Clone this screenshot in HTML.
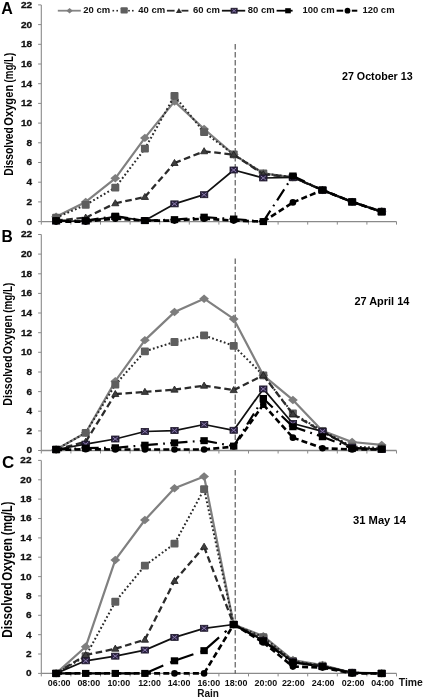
<!DOCTYPE html>
<html><head><meta charset="utf-8"><style>
html,body{margin:0;padding:0;background:#fff;}
svg{display:block;will-change:transform;}
text{font-family:"Liberation Sans",sans-serif;font-weight:bold;}
</style></head><body>
<svg width="425" height="699" viewBox="0 0 425 699">
<rect width="425" height="699" fill="#fff"/>
<line x1="41.3" y1="4.9" x2="41.3" y2="221.6" stroke="#8a8a8a" stroke-width="1.1"/>
<line x1="38.1" y1="221.6" x2="41.3" y2="221.6" stroke="#8a8a8a" stroke-width="1"/>
<text transform="translate(32.1,224.5) scale(1.04,1)" font-size="9.7" text-anchor="end" font-family="Liberation Sans, sans-serif" font-weight="bold" fill="#111" stroke="#111" stroke-width="0.3">0</text>
<line x1="38.1" y1="201.9" x2="41.3" y2="201.9" stroke="#8a8a8a" stroke-width="1"/>
<text transform="translate(32.1,204.8) scale(1.04,1)" font-size="9.7" text-anchor="end" font-family="Liberation Sans, sans-serif" font-weight="bold" fill="#111" stroke="#111" stroke-width="0.3">2</text>
<line x1="38.1" y1="182.2" x2="41.3" y2="182.2" stroke="#8a8a8a" stroke-width="1"/>
<text transform="translate(32.1,185.1) scale(1.04,1)" font-size="9.7" text-anchor="end" font-family="Liberation Sans, sans-serif" font-weight="bold" fill="#111" stroke="#111" stroke-width="0.3">4</text>
<line x1="38.1" y1="162.5" x2="41.3" y2="162.5" stroke="#8a8a8a" stroke-width="1"/>
<text transform="translate(32.1,165.4) scale(1.04,1)" font-size="9.7" text-anchor="end" font-family="Liberation Sans, sans-serif" font-weight="bold" fill="#111" stroke="#111" stroke-width="0.3">6</text>
<line x1="38.1" y1="142.8" x2="41.3" y2="142.8" stroke="#8a8a8a" stroke-width="1"/>
<text transform="translate(32.1,145.7) scale(1.04,1)" font-size="9.7" text-anchor="end" font-family="Liberation Sans, sans-serif" font-weight="bold" fill="#111" stroke="#111" stroke-width="0.3">8</text>
<line x1="38.1" y1="123.1" x2="41.3" y2="123.1" stroke="#8a8a8a" stroke-width="1"/>
<text transform="translate(32.1,126.0) scale(1.04,1)" font-size="9.7" text-anchor="end" font-family="Liberation Sans, sans-serif" font-weight="bold" fill="#111" stroke="#111" stroke-width="0.3">10</text>
<line x1="38.1" y1="103.4" x2="41.3" y2="103.4" stroke="#8a8a8a" stroke-width="1"/>
<text transform="translate(32.1,106.3) scale(1.04,1)" font-size="9.7" text-anchor="end" font-family="Liberation Sans, sans-serif" font-weight="bold" fill="#111" stroke="#111" stroke-width="0.3">12</text>
<line x1="38.1" y1="83.7" x2="41.3" y2="83.7" stroke="#8a8a8a" stroke-width="1"/>
<text transform="translate(32.1,86.6) scale(1.04,1)" font-size="9.7" text-anchor="end" font-family="Liberation Sans, sans-serif" font-weight="bold" fill="#111" stroke="#111" stroke-width="0.3">14</text>
<line x1="38.1" y1="64.0" x2="41.3" y2="64.0" stroke="#8a8a8a" stroke-width="1"/>
<text transform="translate(32.1,66.9) scale(1.04,1)" font-size="9.7" text-anchor="end" font-family="Liberation Sans, sans-serif" font-weight="bold" fill="#111" stroke="#111" stroke-width="0.3">16</text>
<line x1="38.1" y1="44.3" x2="41.3" y2="44.3" stroke="#8a8a8a" stroke-width="1"/>
<text transform="translate(32.1,47.2) scale(1.04,1)" font-size="9.7" text-anchor="end" font-family="Liberation Sans, sans-serif" font-weight="bold" fill="#111" stroke="#111" stroke-width="0.3">18</text>
<line x1="38.1" y1="24.6" x2="41.3" y2="24.6" stroke="#8a8a8a" stroke-width="1"/>
<text transform="translate(32.1,27.5) scale(1.04,1)" font-size="9.7" text-anchor="end" font-family="Liberation Sans, sans-serif" font-weight="bold" fill="#111" stroke="#111" stroke-width="0.3">20</text>
<line x1="38.1" y1="4.9" x2="41.3" y2="4.9" stroke="#8a8a8a" stroke-width="1"/>
<text transform="translate(32.1,7.8) scale(1.04,1)" font-size="9.7" text-anchor="end" font-family="Liberation Sans, sans-serif" font-weight="bold" fill="#111" stroke="#111" stroke-width="0.3">22</text>
<line x1="41.3" y1="221.6" x2="396.5" y2="221.6" stroke="#8a8a8a" stroke-width="1.3"/>
<line x1="41.3" y1="221.6" x2="41.3" y2="224.6" stroke="#8a8a8a" stroke-width="1"/>
<line x1="70.9" y1="221.6" x2="70.9" y2="224.6" stroke="#8a8a8a" stroke-width="1"/>
<line x1="100.5" y1="221.6" x2="100.5" y2="224.6" stroke="#8a8a8a" stroke-width="1"/>
<line x1="130.1" y1="221.6" x2="130.1" y2="224.6" stroke="#8a8a8a" stroke-width="1"/>
<line x1="159.7" y1="221.6" x2="159.7" y2="224.6" stroke="#8a8a8a" stroke-width="1"/>
<line x1="189.3" y1="221.6" x2="189.3" y2="224.6" stroke="#8a8a8a" stroke-width="1"/>
<line x1="218.9" y1="221.6" x2="218.9" y2="224.6" stroke="#8a8a8a" stroke-width="1"/>
<line x1="248.5" y1="221.6" x2="248.5" y2="224.6" stroke="#8a8a8a" stroke-width="1"/>
<line x1="278.1" y1="221.6" x2="278.1" y2="224.6" stroke="#8a8a8a" stroke-width="1"/>
<line x1="307.7" y1="221.6" x2="307.7" y2="224.6" stroke="#8a8a8a" stroke-width="1"/>
<line x1="337.3" y1="221.6" x2="337.3" y2="224.6" stroke="#8a8a8a" stroke-width="1"/>
<line x1="366.9" y1="221.6" x2="366.9" y2="224.6" stroke="#8a8a8a" stroke-width="1"/>
<line x1="396.5" y1="221.6" x2="396.5" y2="224.6" stroke="#8a8a8a" stroke-width="1"/>
<line x1="235.2" y1="44.0" x2="235.2" y2="221.6" stroke="#474747" stroke-width="1.05" stroke-dasharray="5.4 2.6"/>
<polyline points="56.1,216.7 85.7,201.9 115.3,178.3 144.9,137.9 174.5,101.4 204.1,129.0 233.7,154.6 263.3,173.3 292.9,177.3 322.5,190.1 352.1,201.9 381.7,211.3" fill="none" stroke="#808080" stroke-width="2.2" stroke-linejoin="round"/>
<path d="M56.10 212.47L61.00 216.67L56.10 220.87L51.20 216.67Z" fill="#7d7d7d"/>
<path d="M85.70 197.70L90.60 201.90L85.70 206.10L80.80 201.90Z" fill="#7d7d7d"/>
<path d="M115.30 174.06L120.20 178.26L115.30 182.46L110.40 178.26Z" fill="#7d7d7d"/>
<path d="M144.90 133.68L149.80 137.88L144.90 142.07L140.00 137.88Z" fill="#7d7d7d"/>
<path d="M174.50 97.23L179.40 101.43L174.50 105.63L169.60 101.43Z" fill="#7d7d7d"/>
<path d="M204.10 124.81L209.00 129.01L204.10 133.21L199.20 129.01Z" fill="#7d7d7d"/>
<path d="M233.70 150.42L238.60 154.62L233.70 158.82L228.80 154.62Z" fill="#7d7d7d"/>
<path d="M263.30 169.13L268.20 173.33L263.30 177.53L258.40 173.33Z" fill="#7d7d7d"/>
<path d="M292.90 173.08L297.80 177.28L292.90 181.47L288.00 177.28Z" fill="#7d7d7d"/>
<path d="M322.50 185.88L327.40 190.08L322.50 194.28L317.60 190.08Z" fill="#7d7d7d"/>
<path d="M352.10 197.70L357.00 201.90L352.10 206.10L347.20 201.90Z" fill="#7d7d7d"/>
<path d="M381.70 207.06L386.60 211.26L381.70 215.46L376.80 211.26Z" fill="#7d7d7d"/>
<polyline points="56.1,217.7 85.7,204.9 115.3,187.6 144.9,148.7 174.5,95.9 204.1,132.2 233.7,154.4 263.3,173.3 292.9,177.3 322.5,190.1 352.1,201.9 381.7,211.8" fill="none" stroke="#2a2a2a" stroke-width="2.0" stroke-linejoin="round" stroke-dasharray="1.8 2.3"/>
<rect x="52.10" y="213.76" width="8.00" height="7.80" rx="1.00" fill="#5e5e5e"/>
<rect x="81.70" y="200.95" width="8.00" height="7.80" rx="1.00" fill="#5e5e5e"/>
<rect x="111.30" y="183.72" width="8.00" height="7.80" rx="1.00" fill="#5e5e5e"/>
<rect x="140.90" y="144.81" width="8.00" height="7.80" rx="1.00" fill="#5e5e5e"/>
<rect x="170.50" y="92.01" width="8.00" height="7.80" rx="1.00" fill="#5e5e5e"/>
<rect x="200.10" y="128.26" width="8.00" height="7.80" rx="1.00" fill="#5e5e5e"/>
<rect x="229.70" y="150.52" width="8.00" height="7.80" rx="1.00" fill="#5e5e5e"/>
<rect x="259.30" y="169.43" width="8.00" height="7.80" rx="1.00" fill="#5e5e5e"/>
<rect x="288.90" y="173.38" width="8.00" height="7.80" rx="1.00" fill="#5e5e5e"/>
<rect x="318.50" y="186.18" width="8.00" height="7.80" rx="1.00" fill="#5e5e5e"/>
<rect x="348.10" y="198.00" width="8.00" height="7.80" rx="1.00" fill="#5e5e5e"/>
<rect x="377.70" y="207.85" width="8.00" height="7.80" rx="1.00" fill="#5e5e5e"/>
<g fill="none" stroke="#2b2b2b" stroke-width="2.3" stroke-linejoin="round" stroke-dasharray="6.6 3.6"><line x1="56.1" y1="220.6" x2="85.7" y2="217.7"/><line x1="85.7" y1="217.7" x2="115.3" y2="203.3"/><line x1="115.3" y1="203.3" x2="144.9" y2="197.0"/><line x1="144.9" y1="197.0" x2="174.5" y2="163.0"/><line x1="174.5" y1="163.0" x2="204.1" y2="151.3"/><line x1="204.1" y1="151.3" x2="233.7" y2="154.6"/><line x1="233.7" y1="154.6" x2="263.3" y2="174.3"/><line x1="263.3" y1="174.3" x2="292.9" y2="177.3"/><line x1="292.9" y1="177.3" x2="322.5" y2="190.1"/><line x1="322.5" y1="190.1" x2="352.1" y2="201.9"/><line x1="352.1" y1="201.9" x2="381.7" y2="211.8"/></g>
<path d="M56.10 217.01L59.70 223.11L52.50 223.11Z" fill="#3e3e3e" stroke="#1e1e1e" stroke-width="0.8" stroke-linejoin="round"/>
<path d="M85.70 214.06L89.30 220.16L82.10 220.16Z" fill="#3e3e3e" stroke="#1e1e1e" stroke-width="0.8" stroke-linejoin="round"/>
<path d="M115.30 199.68L118.90 205.78L111.70 205.78Z" fill="#3e3e3e" stroke="#1e1e1e" stroke-width="0.8" stroke-linejoin="round"/>
<path d="M144.90 193.38L148.50 199.47L141.30 199.47Z" fill="#3e3e3e" stroke="#1e1e1e" stroke-width="0.8" stroke-linejoin="round"/>
<path d="M174.50 159.39L178.10 165.49L170.90 165.49Z" fill="#3e3e3e" stroke="#1e1e1e" stroke-width="0.8" stroke-linejoin="round"/>
<path d="M204.10 147.67L207.70 153.77L200.50 153.77Z" fill="#3e3e3e" stroke="#1e1e1e" stroke-width="0.8" stroke-linejoin="round"/>
<path d="M233.70 151.02L237.30 157.12L230.10 157.12Z" fill="#3e3e3e" stroke="#1e1e1e" stroke-width="0.8" stroke-linejoin="round"/>
<path d="M263.30 170.72L266.90 176.82L259.70 176.82Z" fill="#3e3e3e" stroke="#1e1e1e" stroke-width="0.8" stroke-linejoin="round"/>
<path d="M292.90 173.68L296.50 179.78L289.30 179.78Z" fill="#3e3e3e" stroke="#1e1e1e" stroke-width="0.8" stroke-linejoin="round"/>
<path d="M322.50 186.48L326.10 192.58L318.90 192.58Z" fill="#3e3e3e" stroke="#1e1e1e" stroke-width="0.8" stroke-linejoin="round"/>
<path d="M352.10 198.30L355.70 204.40L348.50 204.40Z" fill="#3e3e3e" stroke="#1e1e1e" stroke-width="0.8" stroke-linejoin="round"/>
<path d="M381.70 208.15L385.30 214.25L378.10 214.25Z" fill="#3e3e3e" stroke="#1e1e1e" stroke-width="0.8" stroke-linejoin="round"/>
<polyline points="56.1,221.1 85.7,221.1 115.3,216.7 144.9,220.6 174.5,203.9 204.1,194.7 233.7,170.0 263.3,178.0 292.9,177.3 322.5,190.1 352.1,201.9 381.7,211.8" fill="none" stroke="#111111" stroke-width="1.75" stroke-linejoin="round"/>
<rect x="52.40" y="218.11" width="7.40" height="6.00" fill="#2a2240" stroke="#1c1628" stroke-width="0.8"/><path d="M53.60 219.11L58.60 223.11M58.60 219.11L53.60 223.11" stroke="#8a7aac" stroke-width="1.0"/>
<rect x="82.00" y="218.11" width="7.40" height="6.00" fill="#2a2240" stroke="#1c1628" stroke-width="0.8"/><path d="M83.20 219.11L88.20 223.11M88.20 219.11L83.20 223.11" stroke="#8a7aac" stroke-width="1.0"/>
<rect x="111.60" y="213.67" width="7.40" height="6.00" fill="#2a2240" stroke="#1c1628" stroke-width="0.8"/><path d="M112.80 214.67L117.80 218.67M117.80 214.67L112.80 218.67" stroke="#8a7aac" stroke-width="1.0"/>
<rect x="141.20" y="217.61" width="7.40" height="6.00" fill="#2a2240" stroke="#1c1628" stroke-width="0.8"/><path d="M142.40 218.61L147.40 222.61M147.40 218.61L142.40 222.61" stroke="#8a7aac" stroke-width="1.0"/>
<rect x="170.80" y="200.87" width="7.40" height="6.00" fill="#2a2240" stroke="#1c1628" stroke-width="0.8"/><path d="M172.00 201.87L177.00 205.87M177.00 201.87L172.00 205.87" stroke="#8a7aac" stroke-width="1.0"/>
<rect x="200.40" y="191.71" width="7.40" height="6.00" fill="#2a2240" stroke="#1c1628" stroke-width="0.8"/><path d="M201.60 192.71L206.60 196.71M206.60 192.71L201.60 196.71" stroke="#8a7aac" stroke-width="1.0"/>
<rect x="230.00" y="166.99" width="7.40" height="6.00" fill="#2a2240" stroke="#1c1628" stroke-width="0.8"/><path d="M231.20 167.99L236.20 171.99M236.20 167.99L231.20 171.99" stroke="#8a7aac" stroke-width="1.0"/>
<rect x="259.60" y="174.96" width="7.40" height="6.00" fill="#2a2240" stroke="#1c1628" stroke-width="0.8"/><path d="M260.80 175.96L265.80 179.96M265.80 175.96L260.80 179.96" stroke="#8a7aac" stroke-width="1.0"/>
<rect x="289.20" y="174.28" width="7.40" height="6.00" fill="#2a2240" stroke="#1c1628" stroke-width="0.8"/><path d="M290.40 175.28L295.40 179.28M295.40 175.28L290.40 179.28" stroke="#8a7aac" stroke-width="1.0"/>
<rect x="318.80" y="187.08" width="7.40" height="6.00" fill="#2a2240" stroke="#1c1628" stroke-width="0.8"/><path d="M320.00 188.08L325.00 192.08M325.00 188.08L320.00 192.08" stroke="#8a7aac" stroke-width="1.0"/>
<rect x="348.40" y="198.90" width="7.40" height="6.00" fill="#2a2240" stroke="#1c1628" stroke-width="0.8"/><path d="M349.60 199.90L354.60 203.90M354.60 199.90L349.60 203.90" stroke="#8a7aac" stroke-width="1.0"/>
<rect x="378.00" y="208.75" width="7.40" height="6.00" fill="#2a2240" stroke="#1c1628" stroke-width="0.8"/><path d="M379.20 209.75L384.20 213.75M384.20 209.75L379.20 213.75" stroke="#8a7aac" stroke-width="1.0"/>
<g fill="none" stroke="#000000" stroke-width="2.2" stroke-linejoin="round" stroke-dasharray="13 5.3 1.8 5.3"><line x1="56.1" y1="220.6" x2="85.7" y2="220.6"/><line x1="85.7" y1="220.6" x2="115.3" y2="216.2"/><line x1="115.3" y1="216.2" x2="144.9" y2="220.6"/><line x1="144.9" y1="220.6" x2="174.5" y2="219.6"/><line x1="174.5" y1="219.6" x2="204.1" y2="217.2"/><line x1="204.1" y1="217.2" x2="233.7" y2="219.0"/><line x1="233.7" y1="219.0" x2="263.3" y2="221.6"/><line x1="263.3" y1="221.6" x2="292.9" y2="176.0"/><line x1="292.9" y1="176.0" x2="322.5" y2="190.1"/><line x1="322.5" y1="190.1" x2="352.1" y2="201.9"/><line x1="352.1" y1="201.9" x2="381.7" y2="211.8"/></g>
<rect x="52.40" y="217.11" width="7.40" height="7.00" fill="#000"/>
<rect x="82.00" y="217.11" width="7.40" height="7.00" fill="#000"/>
<rect x="111.60" y="212.68" width="7.40" height="7.00" fill="#000"/>
<rect x="141.20" y="217.11" width="7.40" height="7.00" fill="#000"/>
<rect x="170.80" y="216.13" width="7.40" height="7.00" fill="#000"/>
<rect x="200.40" y="213.67" width="7.40" height="7.00" fill="#000"/>
<rect x="230.00" y="215.54" width="7.40" height="7.00" fill="#000"/>
<rect x="259.60" y="218.10" width="7.40" height="7.00" fill="#000"/>
<rect x="289.20" y="172.49" width="7.40" height="7.00" fill="#000"/>
<rect x="318.80" y="186.58" width="7.40" height="7.00" fill="#000"/>
<rect x="348.40" y="198.40" width="7.40" height="7.00" fill="#000"/>
<rect x="378.00" y="208.25" width="7.40" height="7.00" fill="#000"/>
<g fill="none" stroke="#000000" stroke-width="2.6" stroke-linejoin="round" stroke-dasharray="6 3.2"><line x1="56.1" y1="221.6" x2="85.7" y2="221.6"/><line x1="85.7" y1="221.6" x2="115.3" y2="218.6"/><line x1="115.3" y1="218.6" x2="144.9" y2="220.6"/><line x1="144.9" y1="220.6" x2="174.5" y2="220.6"/><line x1="174.5" y1="220.6" x2="204.1" y2="218.6"/><line x1="204.1" y1="218.6" x2="233.7" y2="220.6"/><line x1="233.7" y1="220.6" x2="263.3" y2="221.6"/><line x1="263.3" y1="221.6" x2="292.9" y2="202.4"/><line x1="292.9" y1="202.4" x2="322.5" y2="190.1"/><line x1="322.5" y1="190.1" x2="352.1" y2="201.9"/><line x1="352.1" y1="201.9" x2="381.7" y2="211.8"/></g>
<circle cx="56.10" cy="221.60" r="3.30" fill="#000"/>
<circle cx="85.70" cy="221.60" r="3.30" fill="#000"/>
<circle cx="115.30" cy="218.64" r="3.30" fill="#000"/>
<circle cx="144.90" cy="220.61" r="3.30" fill="#000"/>
<circle cx="174.50" cy="220.61" r="3.30" fill="#000"/>
<circle cx="204.10" cy="218.64" r="3.30" fill="#000"/>
<circle cx="233.70" cy="220.61" r="3.30" fill="#000"/>
<circle cx="263.30" cy="221.60" r="3.30" fill="#000"/>
<circle cx="292.90" cy="202.39" r="3.30" fill="#000"/>
<circle cx="322.50" cy="190.08" r="3.30" fill="#000"/>
<circle cx="352.10" cy="201.90" r="3.30" fill="#000"/>
<circle cx="381.70" cy="211.75" r="3.30" fill="#000"/>
<line x1="41.3" y1="234.5" x2="41.3" y2="450.5" stroke="#8a8a8a" stroke-width="1.1"/>
<line x1="38.1" y1="450.5" x2="41.3" y2="450.5" stroke="#8a8a8a" stroke-width="1"/>
<text transform="translate(32.1,453.4) scale(1.04,1)" font-size="9.7" text-anchor="end" font-family="Liberation Sans, sans-serif" font-weight="bold" fill="#111" stroke="#111" stroke-width="0.3">0</text>
<line x1="38.1" y1="430.9" x2="41.3" y2="430.9" stroke="#8a8a8a" stroke-width="1"/>
<text transform="translate(32.1,433.8) scale(1.04,1)" font-size="9.7" text-anchor="end" font-family="Liberation Sans, sans-serif" font-weight="bold" fill="#111" stroke="#111" stroke-width="0.3">2</text>
<line x1="38.1" y1="411.2" x2="41.3" y2="411.2" stroke="#8a8a8a" stroke-width="1"/>
<text transform="translate(32.1,414.1) scale(1.04,1)" font-size="9.7" text-anchor="end" font-family="Liberation Sans, sans-serif" font-weight="bold" fill="#111" stroke="#111" stroke-width="0.3">4</text>
<line x1="38.1" y1="391.6" x2="41.3" y2="391.6" stroke="#8a8a8a" stroke-width="1"/>
<text transform="translate(32.1,394.5) scale(1.04,1)" font-size="9.7" text-anchor="end" font-family="Liberation Sans, sans-serif" font-weight="bold" fill="#111" stroke="#111" stroke-width="0.3">6</text>
<line x1="38.1" y1="372.0" x2="41.3" y2="372.0" stroke="#8a8a8a" stroke-width="1"/>
<text transform="translate(32.1,374.9) scale(1.04,1)" font-size="9.7" text-anchor="end" font-family="Liberation Sans, sans-serif" font-weight="bold" fill="#111" stroke="#111" stroke-width="0.3">8</text>
<line x1="38.1" y1="352.3" x2="41.3" y2="352.3" stroke="#8a8a8a" stroke-width="1"/>
<text transform="translate(32.1,355.2) scale(1.04,1)" font-size="9.7" text-anchor="end" font-family="Liberation Sans, sans-serif" font-weight="bold" fill="#111" stroke="#111" stroke-width="0.3">10</text>
<line x1="38.1" y1="332.7" x2="41.3" y2="332.7" stroke="#8a8a8a" stroke-width="1"/>
<text transform="translate(32.1,335.6) scale(1.04,1)" font-size="9.7" text-anchor="end" font-family="Liberation Sans, sans-serif" font-weight="bold" fill="#111" stroke="#111" stroke-width="0.3">12</text>
<line x1="38.1" y1="313.0" x2="41.3" y2="313.0" stroke="#8a8a8a" stroke-width="1"/>
<text transform="translate(32.1,315.9) scale(1.04,1)" font-size="9.7" text-anchor="end" font-family="Liberation Sans, sans-serif" font-weight="bold" fill="#111" stroke="#111" stroke-width="0.3">14</text>
<line x1="38.1" y1="293.4" x2="41.3" y2="293.4" stroke="#8a8a8a" stroke-width="1"/>
<text transform="translate(32.1,296.3) scale(1.04,1)" font-size="9.7" text-anchor="end" font-family="Liberation Sans, sans-serif" font-weight="bold" fill="#111" stroke="#111" stroke-width="0.3">16</text>
<line x1="38.1" y1="273.8" x2="41.3" y2="273.8" stroke="#8a8a8a" stroke-width="1"/>
<text transform="translate(32.1,276.7) scale(1.04,1)" font-size="9.7" text-anchor="end" font-family="Liberation Sans, sans-serif" font-weight="bold" fill="#111" stroke="#111" stroke-width="0.3">18</text>
<line x1="38.1" y1="254.1" x2="41.3" y2="254.1" stroke="#8a8a8a" stroke-width="1"/>
<text transform="translate(32.1,257.0) scale(1.04,1)" font-size="9.7" text-anchor="end" font-family="Liberation Sans, sans-serif" font-weight="bold" fill="#111" stroke="#111" stroke-width="0.3">20</text>
<line x1="38.1" y1="234.5" x2="41.3" y2="234.5" stroke="#8a8a8a" stroke-width="1"/>
<text transform="translate(32.1,237.4) scale(1.04,1)" font-size="9.7" text-anchor="end" font-family="Liberation Sans, sans-serif" font-weight="bold" fill="#111" stroke="#111" stroke-width="0.3">22</text>
<line x1="41.3" y1="450.5" x2="396.5" y2="450.5" stroke="#8a8a8a" stroke-width="1.3"/>
<line x1="41.3" y1="450.5" x2="41.3" y2="453.5" stroke="#8a8a8a" stroke-width="1"/>
<line x1="70.9" y1="450.5" x2="70.9" y2="453.5" stroke="#8a8a8a" stroke-width="1"/>
<line x1="100.5" y1="450.5" x2="100.5" y2="453.5" stroke="#8a8a8a" stroke-width="1"/>
<line x1="130.1" y1="450.5" x2="130.1" y2="453.5" stroke="#8a8a8a" stroke-width="1"/>
<line x1="159.7" y1="450.5" x2="159.7" y2="453.5" stroke="#8a8a8a" stroke-width="1"/>
<line x1="189.3" y1="450.5" x2="189.3" y2="453.5" stroke="#8a8a8a" stroke-width="1"/>
<line x1="218.9" y1="450.5" x2="218.9" y2="453.5" stroke="#8a8a8a" stroke-width="1"/>
<line x1="248.5" y1="450.5" x2="248.5" y2="453.5" stroke="#8a8a8a" stroke-width="1"/>
<line x1="278.1" y1="450.5" x2="278.1" y2="453.5" stroke="#8a8a8a" stroke-width="1"/>
<line x1="307.7" y1="450.5" x2="307.7" y2="453.5" stroke="#8a8a8a" stroke-width="1"/>
<line x1="337.3" y1="450.5" x2="337.3" y2="453.5" stroke="#8a8a8a" stroke-width="1"/>
<line x1="366.9" y1="450.5" x2="366.9" y2="453.5" stroke="#8a8a8a" stroke-width="1"/>
<line x1="396.5" y1="450.5" x2="396.5" y2="453.5" stroke="#8a8a8a" stroke-width="1"/>
<line x1="235.2" y1="258.6" x2="235.2" y2="450.5" stroke="#474747" stroke-width="1.05" stroke-dasharray="5.4 2.6"/>
<polyline points="56.1,449.5 85.7,432.8 115.3,381.2 144.9,340.1 174.5,312.1 204.1,298.7 233.7,318.9 263.3,375.3 292.9,399.9 322.5,430.9 352.1,442.0 381.7,444.9" fill="none" stroke="#808080" stroke-width="2.2" stroke-linejoin="round"/>
<path d="M56.10 445.32L61.00 449.52L56.10 453.72L51.20 449.52Z" fill="#7d7d7d"/>
<path d="M85.70 428.63L90.60 432.83L85.70 437.03L80.80 432.83Z" fill="#7d7d7d"/>
<path d="M115.30 376.98L120.20 381.18L115.30 385.38L110.40 381.18Z" fill="#7d7d7d"/>
<path d="M144.90 335.94L149.80 340.14L144.90 344.34L140.00 340.14Z" fill="#7d7d7d"/>
<path d="M174.50 307.86L179.40 312.06L174.50 316.26L169.60 312.06Z" fill="#7d7d7d"/>
<path d="M204.10 294.51L209.00 298.71L204.10 302.91L199.20 298.71Z" fill="#7d7d7d"/>
<path d="M233.70 314.74L238.60 318.94L233.70 323.14L228.80 318.94Z" fill="#7d7d7d"/>
<path d="M263.30 371.09L268.20 375.29L263.30 379.49L258.40 375.29Z" fill="#7d7d7d"/>
<path d="M292.90 395.74L297.80 399.94L292.90 404.14L288.00 399.94Z" fill="#7d7d7d"/>
<path d="M322.50 426.66L327.40 430.86L322.50 435.06L317.60 430.86Z" fill="#7d7d7d"/>
<path d="M352.10 437.76L357.00 441.96L352.10 446.16L347.20 441.96Z" fill="#7d7d7d"/>
<path d="M381.70 440.70L386.60 444.90L381.70 449.10L376.80 444.90Z" fill="#7d7d7d"/>
<polyline points="56.1,449.5 85.7,432.8 115.3,384.7 144.9,351.3 174.5,342.0 204.1,335.4 233.7,345.8 263.3,375.3 292.9,413.5 322.5,430.9 352.1,446.6 381.7,448.0" fill="none" stroke="#2a2a2a" stroke-width="2.0" stroke-linejoin="round" stroke-dasharray="1.8 2.3"/>
<rect x="52.10" y="445.62" width="8.00" height="7.80" rx="1.00" fill="#5e5e5e"/>
<rect x="81.70" y="428.93" width="8.00" height="7.80" rx="1.00" fill="#5e5e5e"/>
<rect x="111.30" y="380.82" width="8.00" height="7.80" rx="1.00" fill="#5e5e5e"/>
<rect x="140.90" y="347.44" width="8.00" height="7.80" rx="1.00" fill="#5e5e5e"/>
<rect x="170.50" y="338.11" width="8.00" height="7.80" rx="1.00" fill="#5e5e5e"/>
<rect x="200.10" y="331.53" width="8.00" height="7.80" rx="1.00" fill="#5e5e5e"/>
<rect x="229.70" y="341.94" width="8.00" height="7.80" rx="1.00" fill="#5e5e5e"/>
<rect x="259.30" y="371.39" width="8.00" height="7.80" rx="1.00" fill="#5e5e5e"/>
<rect x="288.90" y="409.59" width="8.00" height="7.80" rx="1.00" fill="#5e5e5e"/>
<rect x="318.50" y="426.96" width="8.00" height="7.80" rx="1.00" fill="#5e5e5e"/>
<rect x="348.10" y="442.67" width="8.00" height="7.80" rx="1.00" fill="#5e5e5e"/>
<rect x="377.70" y="444.15" width="8.00" height="7.80" rx="1.00" fill="#5e5e5e"/>
<g fill="none" stroke="#2b2b2b" stroke-width="2.3" stroke-linejoin="round" stroke-dasharray="6.6 3.6"><line x1="56.1" y1="449.5" x2="85.7" y2="441.8"/><line x1="85.7" y1="441.8" x2="115.3" y2="394.0"/><line x1="115.3" y1="394.0" x2="144.9" y2="391.9"/><line x1="144.9" y1="391.9" x2="174.5" y2="389.6"/><line x1="174.5" y1="389.6" x2="204.1" y2="385.7"/><line x1="204.1" y1="385.7" x2="233.7" y2="390.1"/><line x1="233.7" y1="390.1" x2="263.3" y2="375.3"/><line x1="263.3" y1="375.3" x2="292.9" y2="414.2"/><line x1="292.9" y1="414.2" x2="322.5" y2="431.8"/><line x1="322.5" y1="431.8" x2="352.1" y2="448.0"/><line x1="352.1" y1="448.0" x2="381.7" y2="449.3"/></g>
<path d="M56.10 445.92L59.70 452.02L52.50 452.02Z" fill="#3e3e3e" stroke="#1e1e1e" stroke-width="0.8" stroke-linejoin="round"/>
<path d="M85.70 438.16L89.30 444.26L82.10 444.26Z" fill="#3e3e3e" stroke="#1e1e1e" stroke-width="0.8" stroke-linejoin="round"/>
<path d="M115.30 390.45L118.90 396.55L111.70 396.55Z" fill="#3e3e3e" stroke="#1e1e1e" stroke-width="0.8" stroke-linejoin="round"/>
<path d="M144.90 388.29L148.50 394.39L141.30 394.39Z" fill="#3e3e3e" stroke="#1e1e1e" stroke-width="0.8" stroke-linejoin="round"/>
<path d="M174.50 386.03L178.10 392.13L170.90 392.13Z" fill="#3e3e3e" stroke="#1e1e1e" stroke-width="0.8" stroke-linejoin="round"/>
<path d="M204.10 382.10L207.70 388.20L200.50 388.20Z" fill="#3e3e3e" stroke="#1e1e1e" stroke-width="0.8" stroke-linejoin="round"/>
<path d="M233.70 386.52L237.30 392.62L230.10 392.62Z" fill="#3e3e3e" stroke="#1e1e1e" stroke-width="0.8" stroke-linejoin="round"/>
<path d="M263.30 371.69L266.90 377.79L259.70 377.79Z" fill="#3e3e3e" stroke="#1e1e1e" stroke-width="0.8" stroke-linejoin="round"/>
<path d="M292.90 410.57L296.50 416.67L289.30 416.67Z" fill="#3e3e3e" stroke="#1e1e1e" stroke-width="0.8" stroke-linejoin="round"/>
<path d="M322.50 428.25L326.10 434.35L318.90 434.35Z" fill="#3e3e3e" stroke="#1e1e1e" stroke-width="0.8" stroke-linejoin="round"/>
<path d="M352.10 444.45L355.70 450.55L348.50 450.55Z" fill="#3e3e3e" stroke="#1e1e1e" stroke-width="0.8" stroke-linejoin="round"/>
<path d="M381.70 445.72L385.30 451.82L378.10 451.82Z" fill="#3e3e3e" stroke="#1e1e1e" stroke-width="0.8" stroke-linejoin="round"/>
<polyline points="56.1,449.5 85.7,444.1 115.3,439.0 144.9,431.5 174.5,430.6 204.1,424.5 233.7,430.3 263.3,388.9 292.9,423.5 322.5,431.4 352.1,447.6 381.7,449.5" fill="none" stroke="#111111" stroke-width="1.75" stroke-linejoin="round"/>
<rect x="52.40" y="446.52" width="7.40" height="6.00" fill="#2a2240" stroke="#1c1628" stroke-width="0.8"/><path d="M53.60 447.52L58.60 451.52M58.60 447.52L53.60 451.52" stroke="#8a7aac" stroke-width="1.0"/>
<rect x="82.00" y="441.12" width="7.40" height="6.00" fill="#2a2240" stroke="#1c1628" stroke-width="0.8"/><path d="M83.20 442.12L88.20 446.12M88.20 442.12L83.20 446.12" stroke="#8a7aac" stroke-width="1.0"/>
<rect x="111.60" y="436.01" width="7.40" height="6.00" fill="#2a2240" stroke="#1c1628" stroke-width="0.8"/><path d="M112.80 437.01L117.80 441.01M117.80 437.01L112.80 441.01" stroke="#8a7aac" stroke-width="1.0"/>
<rect x="141.20" y="428.45" width="7.40" height="6.00" fill="#2a2240" stroke="#1c1628" stroke-width="0.8"/><path d="M142.40 429.45L147.40 433.45M147.40 429.45L142.40 433.45" stroke="#8a7aac" stroke-width="1.0"/>
<rect x="170.80" y="427.57" width="7.40" height="6.00" fill="#2a2240" stroke="#1c1628" stroke-width="0.8"/><path d="M172.00 428.57L177.00 432.57M177.00 428.57L172.00 432.57" stroke="#8a7aac" stroke-width="1.0"/>
<rect x="200.40" y="421.48" width="7.40" height="6.00" fill="#2a2240" stroke="#1c1628" stroke-width="0.8"/><path d="M201.60 422.48L206.60 426.48M206.60 422.48L201.60 426.48" stroke="#8a7aac" stroke-width="1.0"/>
<rect x="230.00" y="427.27" width="7.40" height="6.00" fill="#2a2240" stroke="#1c1628" stroke-width="0.8"/><path d="M231.20 428.27L236.20 432.27M236.20 428.27L231.20 432.27" stroke="#8a7aac" stroke-width="1.0"/>
<rect x="259.60" y="385.94" width="7.40" height="6.00" fill="#2a2240" stroke="#1c1628" stroke-width="0.8"/><path d="M260.80 386.94L265.80 390.94M265.80 386.94L260.80 390.94" stroke="#8a7aac" stroke-width="1.0"/>
<rect x="289.20" y="420.50" width="7.40" height="6.00" fill="#2a2240" stroke="#1c1628" stroke-width="0.8"/><path d="M290.40 421.50L295.40 425.50M295.40 421.50L290.40 425.50" stroke="#8a7aac" stroke-width="1.0"/>
<rect x="318.80" y="428.35" width="7.40" height="6.00" fill="#2a2240" stroke="#1c1628" stroke-width="0.8"/><path d="M320.00 429.35L325.00 433.35M325.00 429.35L320.00 433.35" stroke="#8a7aac" stroke-width="1.0"/>
<rect x="348.40" y="444.55" width="7.40" height="6.00" fill="#2a2240" stroke="#1c1628" stroke-width="0.8"/><path d="M349.60 445.55L354.60 449.55M354.60 445.55L349.60 449.55" stroke="#8a7aac" stroke-width="1.0"/>
<rect x="378.00" y="446.52" width="7.40" height="6.00" fill="#2a2240" stroke="#1c1628" stroke-width="0.8"/><path d="M379.20 447.52L384.20 451.52M384.20 447.52L379.20 451.52" stroke="#8a7aac" stroke-width="1.0"/>
<g fill="none" stroke="#000000" stroke-width="2.2" stroke-linejoin="round" stroke-dasharray="13 5.3 1.8 5.3"><line x1="56.1" y1="449.5" x2="85.7" y2="448.0"/><line x1="85.7" y1="448.0" x2="115.3" y2="447.8"/><line x1="115.3" y1="447.8" x2="144.9" y2="445.2"/><line x1="144.9" y1="445.2" x2="174.5" y2="442.8"/><line x1="174.5" y1="442.8" x2="204.1" y2="440.7"/><line x1="204.1" y1="440.7" x2="233.7" y2="446.1"/><line x1="233.7" y1="446.1" x2="263.3" y2="398.5"/><line x1="263.3" y1="398.5" x2="292.9" y2="426.7"/><line x1="292.9" y1="426.7" x2="322.5" y2="436.8"/><line x1="322.5" y1="436.8" x2="352.1" y2="448.5"/><line x1="352.1" y1="448.5" x2="381.7" y2="449.0"/></g>
<rect x="52.40" y="446.02" width="7.40" height="7.00" fill="#000"/>
<rect x="82.00" y="444.55" width="7.40" height="7.00" fill="#000"/>
<rect x="111.60" y="444.25" width="7.40" height="7.00" fill="#000"/>
<rect x="141.20" y="441.70" width="7.40" height="7.00" fill="#000"/>
<rect x="170.80" y="439.34" width="7.40" height="7.00" fill="#000"/>
<rect x="200.40" y="437.18" width="7.40" height="7.00" fill="#000"/>
<rect x="230.00" y="442.58" width="7.40" height="7.00" fill="#000"/>
<rect x="259.60" y="394.96" width="7.40" height="7.00" fill="#000"/>
<rect x="289.20" y="423.24" width="7.40" height="7.00" fill="#000"/>
<rect x="318.80" y="433.25" width="7.40" height="7.00" fill="#000"/>
<rect x="348.40" y="445.04" width="7.40" height="7.00" fill="#000"/>
<rect x="378.00" y="445.53" width="7.40" height="7.00" fill="#000"/>
<g fill="none" stroke="#000000" stroke-width="2.6" stroke-linejoin="round" stroke-dasharray="6 3.2"><line x1="56.1" y1="450.0" x2="85.7" y2="449.3"/><line x1="85.7" y1="449.3" x2="115.3" y2="449.5"/><line x1="115.3" y1="449.5" x2="144.9" y2="449.5"/><line x1="144.9" y1="449.5" x2="174.5" y2="449.5"/><line x1="174.5" y1="449.5" x2="204.1" y2="449.5"/><line x1="204.1" y1="449.5" x2="233.7" y2="446.6"/><line x1="233.7" y1="446.6" x2="263.3" y2="404.6"/><line x1="263.3" y1="404.6" x2="292.9" y2="437.6"/><line x1="292.9" y1="437.6" x2="322.5" y2="448.2"/><line x1="322.5" y1="448.2" x2="352.1" y2="449.5"/><line x1="352.1" y1="449.5" x2="381.7" y2="449.5"/></g>
<circle cx="56.10" cy="450.01" r="3.30" fill="#000"/>
<circle cx="85.70" cy="449.32" r="3.30" fill="#000"/>
<circle cx="115.30" cy="449.52" r="3.30" fill="#000"/>
<circle cx="144.90" cy="449.52" r="3.30" fill="#000"/>
<circle cx="174.50" cy="449.52" r="3.30" fill="#000"/>
<circle cx="204.10" cy="449.52" r="3.30" fill="#000"/>
<circle cx="233.70" cy="446.57" r="3.30" fill="#000"/>
<circle cx="263.30" cy="404.65" r="3.30" fill="#000"/>
<circle cx="292.90" cy="437.64" r="3.30" fill="#000"/>
<circle cx="322.50" cy="448.24" r="3.30" fill="#000"/>
<circle cx="352.10" cy="449.52" r="3.30" fill="#000"/>
<circle cx="381.70" cy="449.52" r="3.30" fill="#000"/>
<line x1="41.3" y1="460.4" x2="41.3" y2="673.4" stroke="#8a8a8a" stroke-width="1.1"/>
<line x1="38.1" y1="673.4" x2="41.3" y2="673.4" stroke="#8a8a8a" stroke-width="1"/>
<text transform="translate(31.5,676.3) scale(1.04,1)" font-size="9.7" text-anchor="end" font-family="Liberation Sans, sans-serif" font-weight="bold" fill="#111" stroke="#111" stroke-width="0.3">0</text>
<line x1="38.1" y1="654.0" x2="41.3" y2="654.0" stroke="#8a8a8a" stroke-width="1"/>
<text transform="translate(31.5,656.9) scale(1.04,1)" font-size="9.7" text-anchor="end" font-family="Liberation Sans, sans-serif" font-weight="bold" fill="#111" stroke="#111" stroke-width="0.3">2</text>
<line x1="38.1" y1="634.7" x2="41.3" y2="634.7" stroke="#8a8a8a" stroke-width="1"/>
<text transform="translate(31.5,637.6) scale(1.04,1)" font-size="9.7" text-anchor="end" font-family="Liberation Sans, sans-serif" font-weight="bold" fill="#111" stroke="#111" stroke-width="0.3">4</text>
<line x1="38.1" y1="615.3" x2="41.3" y2="615.3" stroke="#8a8a8a" stroke-width="1"/>
<text transform="translate(31.5,618.2) scale(1.04,1)" font-size="9.7" text-anchor="end" font-family="Liberation Sans, sans-serif" font-weight="bold" fill="#111" stroke="#111" stroke-width="0.3">6</text>
<line x1="38.1" y1="595.9" x2="41.3" y2="595.9" stroke="#8a8a8a" stroke-width="1"/>
<text transform="translate(31.5,598.8) scale(1.04,1)" font-size="9.7" text-anchor="end" font-family="Liberation Sans, sans-serif" font-weight="bold" fill="#111" stroke="#111" stroke-width="0.3">8</text>
<line x1="38.1" y1="576.6" x2="41.3" y2="576.6" stroke="#8a8a8a" stroke-width="1"/>
<text transform="translate(31.5,579.5) scale(1.04,1)" font-size="9.7" text-anchor="end" font-family="Liberation Sans, sans-serif" font-weight="bold" fill="#111" stroke="#111" stroke-width="0.3">10</text>
<line x1="38.1" y1="557.2" x2="41.3" y2="557.2" stroke="#8a8a8a" stroke-width="1"/>
<text transform="translate(31.5,560.1) scale(1.04,1)" font-size="9.7" text-anchor="end" font-family="Liberation Sans, sans-serif" font-weight="bold" fill="#111" stroke="#111" stroke-width="0.3">12</text>
<line x1="38.1" y1="537.9" x2="41.3" y2="537.9" stroke="#8a8a8a" stroke-width="1"/>
<text transform="translate(31.5,540.8) scale(1.04,1)" font-size="9.7" text-anchor="end" font-family="Liberation Sans, sans-serif" font-weight="bold" fill="#111" stroke="#111" stroke-width="0.3">14</text>
<line x1="38.1" y1="518.5" x2="41.3" y2="518.5" stroke="#8a8a8a" stroke-width="1"/>
<text transform="translate(31.5,521.4) scale(1.04,1)" font-size="9.7" text-anchor="end" font-family="Liberation Sans, sans-serif" font-weight="bold" fill="#111" stroke="#111" stroke-width="0.3">16</text>
<line x1="38.1" y1="499.1" x2="41.3" y2="499.1" stroke="#8a8a8a" stroke-width="1"/>
<text transform="translate(31.5,502.0) scale(1.04,1)" font-size="9.7" text-anchor="end" font-family="Liberation Sans, sans-serif" font-weight="bold" fill="#111" stroke="#111" stroke-width="0.3">18</text>
<line x1="38.1" y1="479.8" x2="41.3" y2="479.8" stroke="#8a8a8a" stroke-width="1"/>
<text transform="translate(31.5,482.7) scale(1.04,1)" font-size="9.7" text-anchor="end" font-family="Liberation Sans, sans-serif" font-weight="bold" fill="#111" stroke="#111" stroke-width="0.3">20</text>
<line x1="38.1" y1="460.4" x2="41.3" y2="460.4" stroke="#8a8a8a" stroke-width="1"/>
<text transform="translate(31.5,463.3) scale(1.04,1)" font-size="9.7" text-anchor="end" font-family="Liberation Sans, sans-serif" font-weight="bold" fill="#111" stroke="#111" stroke-width="0.3">22</text>
<line x1="41.3" y1="673.4" x2="396.5" y2="673.4" stroke="#8a8a8a" stroke-width="1.3"/>
<line x1="41.3" y1="673.4" x2="41.3" y2="676.4" stroke="#8a8a8a" stroke-width="1"/>
<line x1="70.9" y1="673.4" x2="70.9" y2="676.4" stroke="#8a8a8a" stroke-width="1"/>
<line x1="100.5" y1="673.4" x2="100.5" y2="676.4" stroke="#8a8a8a" stroke-width="1"/>
<line x1="130.1" y1="673.4" x2="130.1" y2="676.4" stroke="#8a8a8a" stroke-width="1"/>
<line x1="159.7" y1="673.4" x2="159.7" y2="676.4" stroke="#8a8a8a" stroke-width="1"/>
<line x1="189.3" y1="673.4" x2="189.3" y2="676.4" stroke="#8a8a8a" stroke-width="1"/>
<line x1="218.9" y1="673.4" x2="218.9" y2="676.4" stroke="#8a8a8a" stroke-width="1"/>
<line x1="248.5" y1="673.4" x2="248.5" y2="676.4" stroke="#8a8a8a" stroke-width="1"/>
<line x1="278.1" y1="673.4" x2="278.1" y2="676.4" stroke="#8a8a8a" stroke-width="1"/>
<line x1="307.7" y1="673.4" x2="307.7" y2="676.4" stroke="#8a8a8a" stroke-width="1"/>
<line x1="337.3" y1="673.4" x2="337.3" y2="676.4" stroke="#8a8a8a" stroke-width="1"/>
<line x1="366.9" y1="673.4" x2="366.9" y2="676.4" stroke="#8a8a8a" stroke-width="1"/>
<line x1="396.5" y1="673.4" x2="396.5" y2="676.4" stroke="#8a8a8a" stroke-width="1"/>
<line x1="235.2" y1="470.0" x2="235.2" y2="673.4" stroke="#474747" stroke-width="1.05" stroke-dasharray="5.4 2.6"/>
<polyline points="56.1,673.4 85.7,646.8 115.3,559.9 144.9,520.0 174.5,488.2 204.1,476.5 233.7,624.5 263.3,636.1 292.9,660.0 322.5,665.0 352.1,672.7 381.7,673.4" fill="none" stroke="#808080" stroke-width="2.2" stroke-linejoin="round"/>
<path d="M56.10 669.20L61.00 673.40L56.10 677.60L51.20 673.40Z" fill="#7d7d7d"/>
<path d="M85.70 642.57L90.60 646.77L85.70 650.98L80.80 646.77Z" fill="#7d7d7d"/>
<path d="M115.30 555.73L120.20 559.93L115.30 564.13L110.40 559.93Z" fill="#7d7d7d"/>
<path d="M144.90 515.84L149.80 520.04L144.90 524.24L140.00 520.04Z" fill="#7d7d7d"/>
<path d="M174.50 483.99L179.40 488.19L174.50 492.39L169.60 488.19Z" fill="#7d7d7d"/>
<path d="M204.10 472.27L209.00 476.47L204.10 480.67L199.20 476.47Z" fill="#7d7d7d"/>
<path d="M233.70 620.31L238.60 624.51L233.70 628.71L228.80 624.51Z" fill="#7d7d7d"/>
<path d="M263.30 631.92L268.20 636.12L263.30 640.33L258.40 636.12Z" fill="#7d7d7d"/>
<path d="M292.90 655.84L297.80 660.04L292.90 664.24L288.00 660.04Z" fill="#7d7d7d"/>
<path d="M322.50 660.78L327.40 664.98L322.50 669.18L317.60 664.98Z" fill="#7d7d7d"/>
<path d="M352.10 668.52L357.00 672.72L352.10 676.92L347.20 672.72Z" fill="#7d7d7d"/>
<path d="M381.70 669.20L386.60 673.40L381.70 677.60L376.80 673.40Z" fill="#7d7d7d"/>
<polyline points="56.1,673.4 85.7,656.2 115.3,601.8 144.9,565.6 174.5,543.7 204.1,489.2 233.7,624.5 263.3,637.1 292.9,660.8 322.5,665.7 352.1,672.7 381.7,673.4" fill="none" stroke="#2a2a2a" stroke-width="2.0" stroke-linejoin="round" stroke-dasharray="1.8 2.3"/>
<rect x="52.10" y="669.50" width="8.00" height="7.80" rx="1.00" fill="#5e5e5e"/>
<rect x="81.70" y="652.27" width="8.00" height="7.80" rx="1.00" fill="#5e5e5e"/>
<rect x="111.30" y="597.85" width="8.00" height="7.80" rx="1.00" fill="#5e5e5e"/>
<rect x="140.90" y="561.74" width="8.00" height="7.80" rx="1.00" fill="#5e5e5e"/>
<rect x="170.50" y="539.76" width="8.00" height="7.80" rx="1.00" fill="#5e5e5e"/>
<rect x="200.10" y="485.25" width="8.00" height="7.80" rx="1.00" fill="#5e5e5e"/>
<rect x="229.70" y="620.61" width="8.00" height="7.80" rx="1.00" fill="#5e5e5e"/>
<rect x="259.30" y="633.19" width="8.00" height="7.80" rx="1.00" fill="#5e5e5e"/>
<rect x="288.90" y="656.91" width="8.00" height="7.80" rx="1.00" fill="#5e5e5e"/>
<rect x="318.50" y="661.75" width="8.00" height="7.80" rx="1.00" fill="#5e5e5e"/>
<rect x="348.10" y="668.82" width="8.00" height="7.80" rx="1.00" fill="#5e5e5e"/>
<rect x="377.70" y="669.50" width="8.00" height="7.80" rx="1.00" fill="#5e5e5e"/>
<g fill="none" stroke="#2b2b2b" stroke-width="2.3" stroke-linejoin="round" stroke-dasharray="6.6 3.6"><line x1="56.1" y1="673.4" x2="85.7" y2="655.0"/><line x1="85.7" y1="655.0" x2="115.3" y2="648.7"/><line x1="115.3" y1="648.7" x2="144.9" y2="639.7"/><line x1="144.9" y1="639.7" x2="174.5" y2="580.9"/><line x1="174.5" y1="580.9" x2="204.1" y2="546.8"/><line x1="204.1" y1="546.8" x2="233.7" y2="624.5"/><line x1="233.7" y1="624.5" x2="263.3" y2="639.5"/><line x1="263.3" y1="639.5" x2="292.9" y2="661.8"/><line x1="292.9" y1="661.8" x2="322.5" y2="666.1"/><line x1="322.5" y1="666.1" x2="352.1" y2="672.9"/><line x1="352.1" y1="672.9" x2="381.7" y2="673.4"/></g>
<path d="M56.10 669.80L59.70 675.90L52.50 675.90Z" fill="#3e3e3e" stroke="#1e1e1e" stroke-width="0.8" stroke-linejoin="round"/>
<path d="M85.70 651.40L89.30 657.50L82.10 657.50Z" fill="#3e3e3e" stroke="#1e1e1e" stroke-width="0.8" stroke-linejoin="round"/>
<path d="M115.30 645.11L118.90 651.21L111.70 651.21Z" fill="#3e3e3e" stroke="#1e1e1e" stroke-width="0.8" stroke-linejoin="round"/>
<path d="M144.90 636.11L148.50 642.21L141.30 642.21Z" fill="#3e3e3e" stroke="#1e1e1e" stroke-width="0.8" stroke-linejoin="round"/>
<path d="M174.50 577.34L178.10 583.44L170.90 583.44Z" fill="#3e3e3e" stroke="#1e1e1e" stroke-width="0.8" stroke-linejoin="round"/>
<path d="M204.10 543.16L207.70 549.26L200.50 549.26Z" fill="#3e3e3e" stroke="#1e1e1e" stroke-width="0.8" stroke-linejoin="round"/>
<path d="M233.70 620.91L237.30 627.01L230.10 627.01Z" fill="#3e3e3e" stroke="#1e1e1e" stroke-width="0.8" stroke-linejoin="round"/>
<path d="M263.30 635.91L266.90 642.01L259.70 642.01Z" fill="#3e3e3e" stroke="#1e1e1e" stroke-width="0.8" stroke-linejoin="round"/>
<path d="M292.90 658.18L296.50 664.28L289.30 664.28Z" fill="#3e3e3e" stroke="#1e1e1e" stroke-width="0.8" stroke-linejoin="round"/>
<path d="M322.50 662.54L326.10 668.64L318.90 668.64Z" fill="#3e3e3e" stroke="#1e1e1e" stroke-width="0.8" stroke-linejoin="round"/>
<path d="M352.10 669.32L355.70 675.42L348.50 675.42Z" fill="#3e3e3e" stroke="#1e1e1e" stroke-width="0.8" stroke-linejoin="round"/>
<path d="M381.70 669.80L385.30 675.90L378.10 675.90Z" fill="#3e3e3e" stroke="#1e1e1e" stroke-width="0.8" stroke-linejoin="round"/>
<polyline points="56.1,673.4 85.7,660.8 115.3,656.2 144.9,650.1 174.5,637.4 204.1,628.3 233.7,624.5 263.3,640.5 292.9,661.8 322.5,666.4 352.1,672.7 381.7,673.4" fill="none" stroke="#111111" stroke-width="1.75" stroke-linejoin="round"/>
<rect x="52.40" y="670.40" width="7.40" height="6.00" fill="#2a2240" stroke="#1c1628" stroke-width="0.8"/><path d="M53.60 671.40L58.60 675.40M58.60 671.40L53.60 675.40" stroke="#8a7aac" stroke-width="1.0"/>
<rect x="82.00" y="657.81" width="7.40" height="6.00" fill="#2a2240" stroke="#1c1628" stroke-width="0.8"/><path d="M83.20 658.81L88.20 662.81M88.20 658.81L83.20 662.81" stroke="#8a7aac" stroke-width="1.0"/>
<rect x="111.60" y="653.17" width="7.40" height="6.00" fill="#2a2240" stroke="#1c1628" stroke-width="0.8"/><path d="M112.80 654.17L117.80 658.17M117.80 654.17L112.80 658.17" stroke="#8a7aac" stroke-width="1.0"/>
<rect x="141.20" y="647.07" width="7.40" height="6.00" fill="#2a2240" stroke="#1c1628" stroke-width="0.8"/><path d="M142.40 648.07L147.40 652.07M147.40 648.07L142.40 652.07" stroke="#8a7aac" stroke-width="1.0"/>
<rect x="170.80" y="634.38" width="7.40" height="6.00" fill="#2a2240" stroke="#1c1628" stroke-width="0.8"/><path d="M172.00 635.38L177.00 639.38M177.00 635.38L172.00 639.38" stroke="#8a7aac" stroke-width="1.0"/>
<rect x="200.40" y="625.28" width="7.40" height="6.00" fill="#2a2240" stroke="#1c1628" stroke-width="0.8"/><path d="M201.60 626.28L206.60 630.28M206.60 626.28L201.60 630.28" stroke="#8a7aac" stroke-width="1.0"/>
<rect x="230.00" y="621.51" width="7.40" height="6.00" fill="#2a2240" stroke="#1c1628" stroke-width="0.8"/><path d="M231.20 622.51L236.20 626.51M236.20 622.51L231.20 626.51" stroke="#8a7aac" stroke-width="1.0"/>
<rect x="259.60" y="637.48" width="7.40" height="6.00" fill="#2a2240" stroke="#1c1628" stroke-width="0.8"/><path d="M260.80 638.48L265.80 642.48M265.80 638.48L260.80 642.48" stroke="#8a7aac" stroke-width="1.0"/>
<rect x="289.20" y="658.78" width="7.40" height="6.00" fill="#2a2240" stroke="#1c1628" stroke-width="0.8"/><path d="M290.40 659.78L295.40 663.78M295.40 659.78L290.40 663.78" stroke="#8a7aac" stroke-width="1.0"/>
<rect x="318.80" y="663.43" width="7.40" height="6.00" fill="#2a2240" stroke="#1c1628" stroke-width="0.8"/><path d="M320.00 664.43L325.00 668.43M325.00 664.43L320.00 668.43" stroke="#8a7aac" stroke-width="1.0"/>
<rect x="348.40" y="669.72" width="7.40" height="6.00" fill="#2a2240" stroke="#1c1628" stroke-width="0.8"/><path d="M349.60 670.72L354.60 674.72M354.60 670.72L349.60 674.72" stroke="#8a7aac" stroke-width="1.0"/>
<rect x="378.00" y="670.40" width="7.40" height="6.00" fill="#2a2240" stroke="#1c1628" stroke-width="0.8"/><path d="M379.20 671.40L384.20 675.40M384.20 671.40L379.20 675.40" stroke="#8a7aac" stroke-width="1.0"/>
<g fill="none" stroke="#000000" stroke-width="2.2" stroke-linejoin="round" stroke-dasharray="20 7.5 2.5 7.5"><line x1="56.1" y1="673.4" x2="85.7" y2="673.4"/><line x1="85.7" y1="673.4" x2="115.3" y2="673.4"/><line x1="115.3" y1="673.4" x2="144.9" y2="673.4"/><line x1="144.9" y1="673.4" x2="174.5" y2="660.8"/><line x1="174.5" y1="660.8" x2="204.1" y2="650.6"/><line x1="204.1" y1="650.6" x2="233.7" y2="624.5"/><line x1="233.7" y1="624.5" x2="263.3" y2="641.0"/><line x1="263.3" y1="641.0" x2="292.9" y2="662.5"/><line x1="292.9" y1="662.5" x2="322.5" y2="666.6"/><line x1="322.5" y1="666.6" x2="352.1" y2="672.9"/><line x1="352.1" y1="672.9" x2="381.7" y2="673.4"/></g>
<rect x="52.40" y="669.90" width="7.40" height="7.00" fill="#000"/>
<rect x="82.00" y="669.90" width="7.40" height="7.00" fill="#000"/>
<rect x="111.60" y="669.90" width="7.40" height="7.00" fill="#000"/>
<rect x="141.20" y="669.90" width="7.40" height="7.00" fill="#000"/>
<rect x="170.80" y="657.31" width="7.40" height="7.00" fill="#000"/>
<rect x="200.40" y="647.15" width="7.40" height="7.00" fill="#000"/>
<rect x="230.00" y="621.01" width="7.40" height="7.00" fill="#000"/>
<rect x="259.60" y="637.47" width="7.40" height="7.00" fill="#000"/>
<rect x="289.20" y="658.96" width="7.40" height="7.00" fill="#000"/>
<rect x="318.80" y="663.12" width="7.40" height="7.00" fill="#000"/>
<rect x="348.40" y="669.42" width="7.40" height="7.00" fill="#000"/>
<rect x="378.00" y="669.90" width="7.40" height="7.00" fill="#000"/>
<g fill="none" stroke="#000000" stroke-width="2.6" stroke-linejoin="round" stroke-dasharray="6 3.2"><line x1="56.1" y1="673.4" x2="85.7" y2="673.4"/><line x1="85.7" y1="673.4" x2="115.3" y2="673.4"/><line x1="115.3" y1="673.4" x2="144.9" y2="673.4"/><line x1="144.9" y1="673.4" x2="174.5" y2="673.4"/><line x1="174.5" y1="673.4" x2="204.1" y2="673.4"/><line x1="204.1" y1="673.4" x2="233.7" y2="624.5"/><line x1="233.7" y1="624.5" x2="263.3" y2="642.4"/><line x1="263.3" y1="642.4" x2="292.9" y2="666.6"/><line x1="292.9" y1="666.6" x2="322.5" y2="667.6"/><line x1="322.5" y1="667.6" x2="352.1" y2="673.4"/><line x1="352.1" y1="673.4" x2="381.7" y2="673.4"/></g>
<circle cx="56.10" cy="673.40" r="3.30" fill="#000"/>
<circle cx="85.70" cy="673.40" r="3.30" fill="#000"/>
<circle cx="115.30" cy="673.40" r="3.30" fill="#000"/>
<circle cx="144.90" cy="673.40" r="3.30" fill="#000"/>
<circle cx="174.50" cy="673.40" r="3.30" fill="#000"/>
<circle cx="204.10" cy="673.40" r="3.30" fill="#000"/>
<circle cx="233.70" cy="624.51" r="3.30" fill="#000"/>
<circle cx="263.30" cy="642.42" r="3.30" fill="#000"/>
<circle cx="292.90" cy="666.62" r="3.30" fill="#000"/>
<circle cx="322.50" cy="667.59" r="3.30" fill="#000"/>
<circle cx="352.10" cy="673.40" r="3.30" fill="#000"/>
<circle cx="381.70" cy="673.40" r="3.30" fill="#000"/>
<text x="1.3" y="13.5" font-size="16" font-family="Liberation Sans, sans-serif" font-weight="bold" fill="#000">A</text>
<text x="1.5" y="242" font-size="15.6" font-family="Liberation Sans, sans-serif" font-weight="bold" fill="#000">B</text>
<text transform="translate(2.0,467.8) scale(1.06,1)" font-size="16" font-family="Liberation Sans, sans-serif" font-weight="bold" fill="#000">C</text>
<text transform="translate(13.1,175.8) rotate(-90)" x="0" y="0" font-size="13.2" font-family="Liberation Sans, sans-serif" font-weight="bold" fill="#000" textLength="48.7" lengthAdjust="spacingAndGlyphs">Dissolved</text>
<text transform="translate(13.1,125.7) rotate(-90)" x="0" y="0" font-size="13.2" font-family="Liberation Sans, sans-serif" font-weight="bold" fill="#000" textLength="40.9" lengthAdjust="spacingAndGlyphs">Oxygen</text>
<text transform="translate(13.1,82.4) rotate(-90)" x="0" y="0" font-size="13.2" font-family="Liberation Sans, sans-serif" font-weight="bold" fill="#000" textLength="29.6" lengthAdjust="spacingAndGlyphs">(mg/L)</text>
<text transform="translate(12.0,405.7) rotate(-90)" x="0" y="0" font-size="13.2" font-family="Liberation Sans, sans-serif" font-weight="bold" fill="#000" textLength="50.1" lengthAdjust="spacingAndGlyphs">Dissolved</text>
<text transform="translate(12.0,354.2) rotate(-90)" x="0" y="0" font-size="13.2" font-family="Liberation Sans, sans-serif" font-weight="bold" fill="#000" textLength="39.1" lengthAdjust="spacingAndGlyphs">Oxygen</text>
<text transform="translate(12.0,312.8) rotate(-90)" x="0" y="0" font-size="13.2" font-family="Liberation Sans, sans-serif" font-weight="bold" fill="#000" textLength="30.2" lengthAdjust="spacingAndGlyphs">(mg/L)</text>
<text transform="translate(11.7,637.7) rotate(-90)" x="0" y="0" font-size="14.0" font-family="Liberation Sans, sans-serif" font-weight="bold" fill="#000" textLength="55.5" lengthAdjust="spacingAndGlyphs">Dissolved</text>
<text transform="translate(11.7,580.8) rotate(-90)" x="0" y="0" font-size="14.0" font-family="Liberation Sans, sans-serif" font-weight="bold" fill="#000" textLength="42.8" lengthAdjust="spacingAndGlyphs">Oxygen</text>
<text transform="translate(11.7,535.2) rotate(-90)" x="0" y="0" font-size="14.0" font-family="Liberation Sans, sans-serif" font-weight="bold" fill="#000" textLength="33.5" lengthAdjust="spacingAndGlyphs">(mg/L)</text>
<text x="342" y="80" font-size="11.2" font-family="Liberation Sans, sans-serif" font-weight="bold" fill="#000" textLength="70.6" lengthAdjust="spacingAndGlyphs">27 October 13</text>
<text x="354.4" y="304.7" font-size="11.2" font-family="Liberation Sans, sans-serif" font-weight="bold" fill="#000" textLength="55" lengthAdjust="spacingAndGlyphs">27 April 14</text>
<text x="353" y="523.5" font-size="11.2" font-family="Liberation Sans, sans-serif" font-weight="bold" fill="#000" textLength="52.9" lengthAdjust="spacingAndGlyphs">31 May 14</text>
<text x="59.2" y="686.1" font-size="8.9" text-anchor="middle" font-family="Liberation Sans, sans-serif" font-weight="bold" fill="#111">06:00</text>
<text x="88.8" y="686.1" font-size="8.9" text-anchor="middle" font-family="Liberation Sans, sans-serif" font-weight="bold" fill="#111">08:00</text>
<text x="118.8" y="686.1" font-size="8.9" text-anchor="middle" font-family="Liberation Sans, sans-serif" font-weight="bold" fill="#111">10:00</text>
<text x="149.5" y="686.1" font-size="8.9" text-anchor="middle" font-family="Liberation Sans, sans-serif" font-weight="bold" fill="#111">12:00</text>
<text x="179.0" y="686.1" font-size="8.9" text-anchor="middle" font-family="Liberation Sans, sans-serif" font-weight="bold" fill="#111">14:00</text>
<text x="208.8" y="686.1" font-size="8.9" text-anchor="middle" font-family="Liberation Sans, sans-serif" font-weight="bold" fill="#111">16:00</text>
<text x="236.1" y="686.1" font-size="8.9" text-anchor="middle" font-family="Liberation Sans, sans-serif" font-weight="bold" fill="#111">18:00</text>
<text x="265.9" y="686.1" font-size="8.9" text-anchor="middle" font-family="Liberation Sans, sans-serif" font-weight="bold" fill="#111">20:00</text>
<text x="293.3" y="686.1" font-size="8.9" text-anchor="middle" font-family="Liberation Sans, sans-serif" font-weight="bold" fill="#111">22:00</text>
<text x="323.2" y="686.1" font-size="8.9" text-anchor="middle" font-family="Liberation Sans, sans-serif" font-weight="bold" fill="#111">24:00</text>
<text x="353.2" y="686.1" font-size="8.9" text-anchor="middle" font-family="Liberation Sans, sans-serif" font-weight="bold" fill="#111">02:00</text>
<text x="382.7" y="686.1" font-size="8.9" text-anchor="middle" font-family="Liberation Sans, sans-serif" font-weight="bold" fill="#111">04:00</text>
<text x="197.2" y="696.6" font-size="10" font-family="Liberation Sans, sans-serif" font-weight="bold" fill="#111">Rain</text>
<text x="398.8" y="686.2" font-size="10.4" font-family="Liberation Sans, sans-serif" font-weight="bold" fill="#111">Time</text>
<line x1="57.8" y1="10.7" x2="80.8" y2="10.7" stroke="#858585" stroke-width="1.8"/>
<path d="M69.6 7.9L72.7 10.7L69.6 13.5L66.5 10.7Z" fill="#7d7d7d"/>
<rect x="112.5" y="9.9" width="1.6" height="1.6" fill="#2a2a2a"/>
<rect x="116.4" y="9.9" width="1.6" height="1.6" fill="#2a2a2a"/>
<rect x="128.2" y="9.9" width="1.6" height="1.6" fill="#2a2a2a"/>
<rect x="132.0" y="9.9" width="1.6" height="1.6" fill="#2a2a2a"/>
<rect x="120.5" y="7.3" width="7.3" height="6.3" rx="1" fill="#5e5e5e"/>
<line x1="166.9" y1="10.7" x2="174.6" y2="10.7" stroke="#2b2b2b" stroke-width="1.8"/>
<line x1="181.5" y1="10.7" x2="188.4" y2="10.7" stroke="#2b2b2b" stroke-width="1.8"/>
<path d="M178.9 8.1L181.9 12.9L175.9 12.9Z" fill="#2e2e2e"/>
<line x1="221.9" y1="10.7" x2="245.2" y2="10.7" stroke="#111" stroke-width="1.8"/>
<rect x="231.07" y="8.24" width="6.07" height="4.92" fill="#2a2240" stroke="#1c1628" stroke-width="0.8"/><path d="M232.27 9.24L235.93 12.16M235.93 9.24L232.27 12.16" stroke="#8a7aac" stroke-width="1.0"/>
<line x1="276.6" y1="10.7" x2="292.6" y2="10.7" stroke="#000" stroke-width="1.8"/>
<rect x="285.2" y="8.2" width="5.6" height="5.1" fill="#000"/>
<line x1="336.6" y1="10.7" x2="343.2" y2="10.7" stroke="#000" stroke-width="2.0"/>
<line x1="351.8" y1="10.7" x2="357.3" y2="10.7" stroke="#000" stroke-width="2.0"/>
<circle cx="347.5" cy="10.7" r="2.9" fill="#000"/>
<text x="83.3" y="12.9" font-size="9.5" font-family="Liberation Sans, sans-serif" font-weight="bold" fill="#111" transform="translate(0,12.9) scale(1,0.88) translate(0,-12.9)">20 cm</text>
<text x="138.2" y="12.9" font-size="9.5" font-family="Liberation Sans, sans-serif" font-weight="bold" fill="#111" transform="translate(0,12.9) scale(1,0.88) translate(0,-12.9)">40 cm</text>
<text x="193" y="12.9" font-size="9.5" font-family="Liberation Sans, sans-serif" font-weight="bold" fill="#111" transform="translate(0,12.9) scale(1,0.88) translate(0,-12.9)">60 cm</text>
<text x="247.8" y="12.9" font-size="9.5" font-family="Liberation Sans, sans-serif" font-weight="bold" fill="#111" transform="translate(0,12.9) scale(1,0.88) translate(0,-12.9)">80 cm</text>
<text x="302.4" y="12.9" font-size="9.5" font-family="Liberation Sans, sans-serif" font-weight="bold" fill="#111" transform="translate(0,12.9) scale(1,0.88) translate(0,-12.9)">100 cm</text>
<text x="362.4" y="12.9" font-size="9.5" font-family="Liberation Sans, sans-serif" font-weight="bold" fill="#111" transform="translate(0,12.9) scale(1,0.88) translate(0,-12.9)">120 cm</text>
</svg>
</body></html>
